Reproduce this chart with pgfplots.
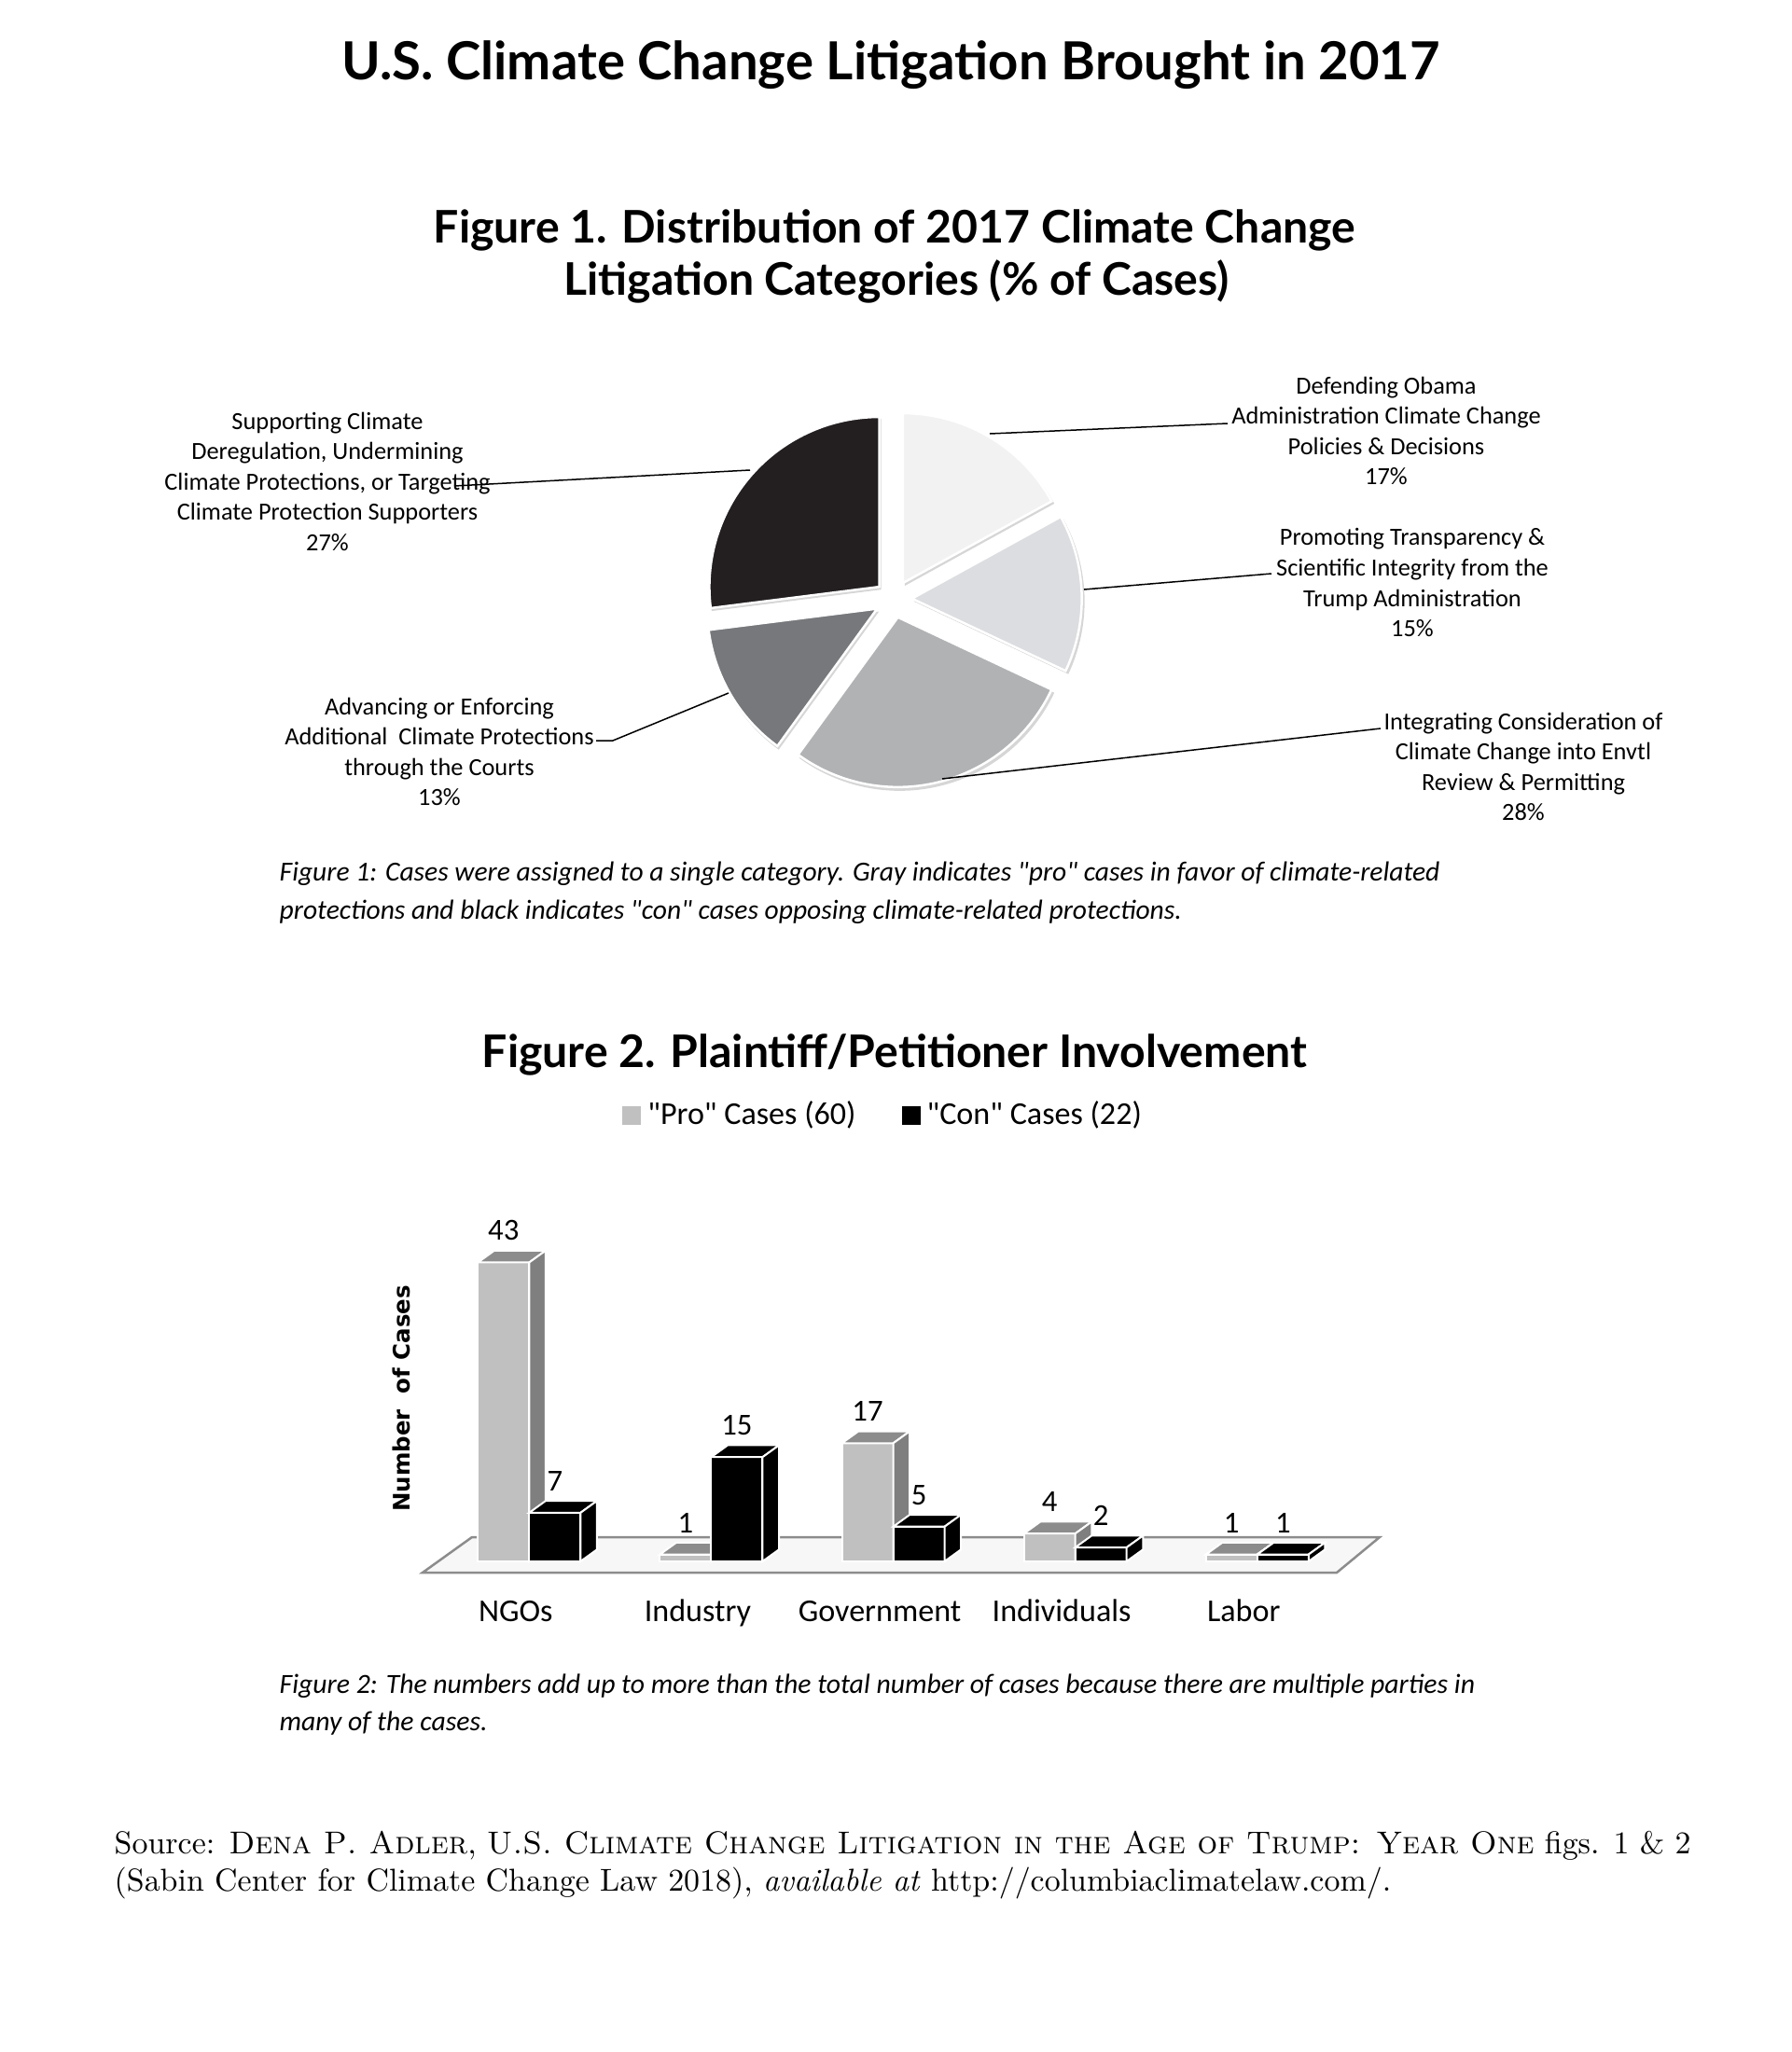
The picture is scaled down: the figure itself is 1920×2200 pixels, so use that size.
\documentclass[border=0pt]{standalone}
\usepackage{fontspec}
\usepackage{pgfplots}
\usepackage{pgfplotstable}
\pgfplotsset{compat=1.18}

\newfontfamily\labelfont{Carlito}
\newfontfamily\headfont{Lato}
\newfontfamily\ylabfont{DejaVu Sans}

\definecolor{sliceA}{HTML}{F2F2F2}
\definecolor{sliceB}{HTML}{DCDDE0}
\definecolor{sliceC}{HTML}{B1B2B4}
\definecolor{sliceD}{HTML}{76787B}
\definecolor{sliceE}{HTML}{231F20}
\definecolor{profront}{HTML}{C0C0C0}
\definecolor{protop}{HTML}{8C8C8C}
\definecolor{proside}{HTML}{7F7F7F}

% Figure 2: plaintiffs per category
\pgfplotstableread{
idx pro con
0   43  7
1   1   15
2   17  5
3   4   2
4   1   1
}\partydata

% one exploded pie slice: start (%), share (%), colour
\newcommand\pieslice[3]{%
  \pgfmathsetmacro\angA{90-3.6*#1}%
  \pgfmathsetmacro\angB{90-3.6*(#1+#2)}%
  \pgfmathsetmacro\offX{20*cos((\angA+\angB)/2)}%
  \pgfmathsetmacro\offY{20*sin((\angA+\angB)/2)}%
  \edef\doslice{%
    \noexpand\fill[black!16] ([shift={(0.02cm,-0.03cm)}]axis cs:\offX,\offY) -- ++(\angA:1.83cm)
      arc[start angle=\angA, end angle=\angB, radius=1.83cm] -- cycle;
    \noexpand\filldraw[fill=#3, draw=white, line width=0.025cm] (axis cs:\offX,\offY) -- ++(\angA:1.82cm)
      arc[start angle=\angA, end angle=\angB, radius=1.82cm] -- cycle;}%
  \doslice}

% top and side faces of the 3d bars: column, left edge offset, top colour, side colour
\newcommand\barfaces[4]{%
  \pgfplotsinvokeforeach{0,...,4}{%
    \pgfplotstablegetelem{##1}{#1}\of\partydata
    \let\barval\pgfplotsretval
    \pgfmathsetmacro\barL{##1+#2}%
    \pgfmathsetmacro\barR{##1+#2+0.282}%
    \edef\doface{%
      \noexpand\filldraw[fill=#3, draw=white, line width=0.02cm] (axis cs:\barL,\barval) -- (axis cs:\barR,\barval)
        -- ++(0.176cm,0.127cm) -- ++(-0.55cm,0cm) -- cycle;
      \noexpand\filldraw[fill=#4, draw=white, line width=0.02cm] (axis cs:\barR,0) -- (axis cs:\barR,\barval)
        -- ++(0.176cm,0.127cm) -- ([shift={(0.176cm,0.127cm)}]axis cs:\barR,0) -- cycle;}%
    \doface}}

\begin{document}
\begin{tikzpicture}[x=0.01cm, y=-0.01cm]
\path[use as bounding box] (0,0) rectangle (1920,2200);

\node[font=\headfont\bfseries\fontsize{16}{18}\selectfont, anchor=base] at (955,86)
  {U.S. Climate Change Litigation Brought in 2017};

% ---------- Figure 1 ----------
\node[font=\headfont\bfseries\fontsize{13.7}{15}\selectfont, anchor=base] at (959,260)
  {Figure 1. Distribution of 2017 Climate Change};
\node[font=\headfont\bfseries\fontsize{13.7}{15}\selectfont, anchor=base] at (961,317)
  {Litigation Categories (\% of Cases)};

\begin{axis}[at={(9.57cm,-6.42cm)}, anchor=center,
  x=0.01cm, y=0.01cm, xmin=-250, xmax=250, ymin=-250, ymax=250,
  hide axis, clip=false]
  \pieslice{0}{17}{sliceA}
  \pieslice{17}{15}{sliceB}
  \pieslice{32}{28}{sliceC}
  \pieslice{60}{13}{sliceD}
  \pieslice{73}{27}{sliceE}
\end{axis}

\begin{scope}[line width=0.015cm]
  \draw (1061,465) -- (1316,454);
  \draw (1162,632) -- (1363,615);
  \draw (1010,835) -- (1480,781);
  \draw (804,504) -- (487,521);
  \draw (781,743) -- (657,794) -- (639,794);
\end{scope}

\begin{scope}[every node/.style={font=\labelfont\fontsize{7.5}{9.25}\selectfont, align=center, anchor=north, inner sep=0pt}]
  \node at (1486,403) {Defending Obama\\Administration Climate Change\\Policies \& Decisions\\17\%};
  \node at (1514,566) {Promoting Transparency \&\\Scientific Integrity from the\\Trump Administration\\15\%};
  \node at (1633,763) {Integrating Consideration of\\Climate Change into Envtl\\Review \& Permitting\\28\%};
  \node at (471,747) {Advancing or Enforcing\\Additional\ \ Climate Protections\\through the Courts\\13\%};
  \node at (351,441) {Supporting Climate\\Deregulation, Undermining\\Climate Protections, or Targeting\\Climate Protection Supporters\\27\%};
\end{scope}

\begin{scope}[every node/.style={font=\labelfont\itshape\fontsize{8.4}{10}\selectfont, anchor=base west, inner sep=0pt}]
  \node at (299,944) {Figure 1: Cases were assigned to a single category. Gray indicates "pro" cases in favor of climate-related};
  \node at (299,985) {protections and black indicates "con" cases opposing climate-related protections.};
\end{scope}

% ---------- Figure 2 ----------
\node[font=\headfont\bfseries\fontsize{13.7}{15}\selectfont, anchor=base] at (959,1144)
  {Figure 2. Plaintiff/Petitioner Involvement};

\filldraw[fill=black!3, draw=black!45, line width=0.025cm]
  (453,1686) -- (506,1648) -- (1479,1648) -- (1433,1686) -- cycle;

\begin{axis}[at={(4.305cm,-16.73cm)}, anchor=south west,
  x=1.95cm, y=0.0745cm,
  xmin=-0.7, xmax=4.7, ymin=0, ymax=45, enlargelimits=false,
  ybar, bar width=0.55cm,
  axis line style={draw=none}, tick style={draw=none},
  ytick=\empty,
  xtick={0,...,4},
  xticklabels={NGOs,Industry,Government,Individuals,Labor},
  xticklabel style={font=\labelfont\fontsize{9.7}{11}\selectfont, anchor=base, yshift=-0.49cm, xshift=-0.145cm},
  ylabel={Number\ \ of Cases},
  ylabel style={font=\ylabfont\bfseries\fontsize{6.95}{8}\selectfont, at={(axis description cs:0,0.52)}, anchor=center},
  clip=false,
  nodes near coords,
  nodes near coords style={font=\labelfont\fontsize{9.3}{11}\selectfont, anchor=base, inner sep=0pt, yshift=0.235cm},
  /pgf/number format/assume math mode=true,
  legend columns=2,
  legend cell align=left,
  legend style={at={(0.492,1.426)}, anchor=center, draw=none, fill=none, inner sep=0pt,
    font=\labelfont\fontsize{9.7}{11}\selectfont,
    /tikz/every even column/.append style={column sep=0.42cm}},
  ]
  \addplot[fill=profront, draw=white, line width=0.02cm, bar shift=-0.275cm,
    legend image code/.code={\fill[profront] (0cm,-0.09cm) rectangle (0.18cm,0.09cm);}]
    table[x=idx, y=pro]{\partydata};
  \addlegendentry{"Pro" Cases (60)}
  \barfaces{pro}{-0.282}{protop}{proside}
  \addplot[fill=black, draw=white, line width=0.02cm, bar shift=0.275cm,
    legend image code/.code={\fill[black] (0cm,-0.09cm) rectangle (0.18cm,0.09cm);}]
    table[x=idx, y=con]{\partydata};
  \addlegendentry{"Con" Cases (22)}
  \barfaces{con}{0}{black}{black}
\end{axis}

\begin{scope}[every node/.style={font=\labelfont\itshape\fontsize{8.45}{10}\selectfont, anchor=base west, inner sep=0pt}]
  \node at (299,1815) {Figure 2: The numbers add up to more than the total number of cases because there are multiple parties in};
  \node at (299,1855) {many of the cases.};
\end{scope}

% ---------- source ----------
\begin{scope}[every node/.style={font=\fontsize{9.65}{12}\selectfont, anchor=base west, inner sep=0pt}]
  \node at (122,1987) {Source: \textsc{Dena P. Adler}, \textsc{U.S. Climate Change Litigation in the Age of Trump: Year One} figs. 1 \& 2};
  \node at (122,2027) {(Sabin Center for Climate Change Law 2018), \textit{available at} http://columbiaclimatelaw.com/.};
\end{scope}
\end{tikzpicture}
\end{document}
